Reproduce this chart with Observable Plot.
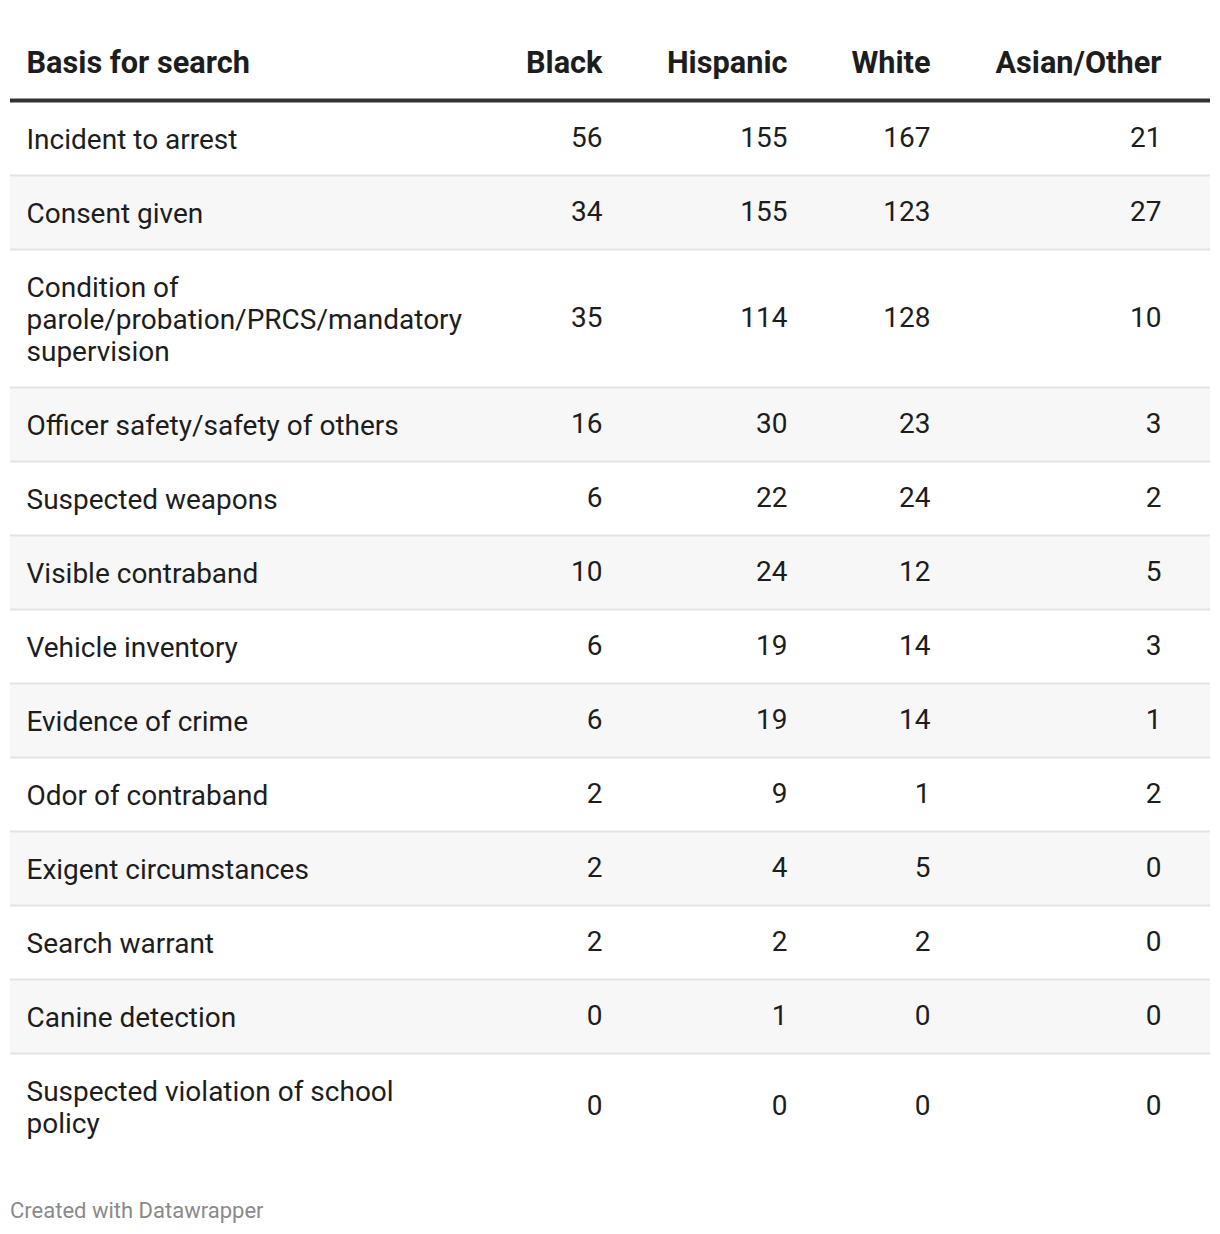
<!DOCTYPE html>
<html>
<head>
<meta charset="utf-8">
<script src="https://cdn.jsdelivr.net/npm/d3@7"></script>
<script src="https://cdn.jsdelivr.net/npm/@observablehq/plot@0.6"></script>
<style>
  html, body { margin: 0; padding: 0; background: #fff; }
  body { width: 1220px; font-family: Roboto, "Noto Sans", sans-serif; }
  #chart svg { display: block; }
  #footer { font-family: Roboto, sans-serif; font-size: 22px; color: #8a8a8a; margin: 10px 0 0 10px; line-height: 26px; }
</style>
</head>
<body>
<div id="chart"></div>
<div id="footer">Created with Datawrapper</div>
<script>
// ---- data ----
const columns = ["Basis for search", "Black", "Hispanic", "White", "Asian/Other"];
const basis = [
  "Incident to arrest",
  "Consent given",
  "Condition of\nparole/probation/PRCS/mandatory\nsupervision",
  "Officer safety/safety of others",
  "Suspected weapons",
  "Visible contraband",
  "Vehicle inventory",
  "Evidence of crime",
  "Odor of contraband",
  "Exigent circumstances",
  "Search warrant",
  "Canine detection",
  "Suspected violation of school\npolicy"
];
const black    = [56, 34, 35, 16, 6, 10, 6, 6, 2, 2, 2, 0, 0];
const hispanic = [155, 155, 114, 30, 22, 24, 19, 19, 9, 4, 2, 1, 0];
const white    = [167, 123, 128, 23, 24, 12, 14, 14, 1, 5, 2, 0, 0];
const asianOther = [21, 27, 10, 3, 2, 5, 3, 1, 2, 0, 0, 0, 0];

// ---- layout ----
const W = 1220, H = 1188;
const tableLeft = 10, tableRight = 1210;
const headerY = 63, headerRule = 100;
const lineH = 32, rowPad = 42;
const colX = {"Basis for search": 26, "Black": 602, "Hispanic": 787, "White": 930, "Asian/Other": 1161};
const fontSize = 28, headFontSize = 30.7;

const valueCols = [black, hispanic, white, asianOther];
let cursorY = headerRule + 1;
const rows = basis.map((label, i) => {
  const lines = label.split("\n").length;
  const h = rowPad + lineH * lines;
  const r = {i, label, y1: cursorY, y2: cursorY + h, ym: cursorY + h / 2};
  cursorY += h;
  return r;
});

const cells = [];
rows.forEach(r => {
  cells.push({col: columns[0], text: r.label, y: r.ym, anchor: "start"});
  valueCols.forEach((arr, j) => cells.push({col: columns[j + 1], text: String(arr[r.i]), y: r.ym, anchor: "end"}));
});
const header = columns.map((c, j) => ({col: c, text: c, y: headerY, anchor: j === 0 ? "start" : "end"}));

const chart = Plot.plot({
  width: W,
  height: H,
  margin: 0,
  x: {domain: [0, W], range: [0, W], axis: null},
  y: {domain: [0, H], range: [0, H], axis: null},
  style: {fontFamily: "Roboto, sans-serif", background: "#fff"},
  marks: [
    Plot.rect(rows.filter(r => r.i % 2 === 1), {x1: () => tableLeft, x2: () => tableRight, y1: "y1", y2: "y2", fill: "#f7f7f7"}),
    Plot.ruleY(rows.slice(0, -1), {y: "y2", x1: tableLeft, x2: tableRight, stroke: "#e3e3e3", strokeWidth: 2}),
    Plot.ruleY([headerRule], {x1: tableLeft, x2: tableRight, stroke: "#333", strokeWidth: 4}),
    Plot.text(header.filter(d => d.anchor === "start"), {x: d => colX[d.col], y: "y", text: "text", textAnchor: "start", fontSize: headFontSize, fontWeight: 700, fill: "#1d1d1d"}),
    Plot.text(header.filter(d => d.anchor === "end"), {x: d => colX[d.col], y: "y", text: "text", textAnchor: "end", fontSize: headFontSize, fontWeight: 700, fill: "#1d1d1d"}),
    Plot.text(cells.filter(d => d.anchor === "start"), {x: d => colX[d.col], y: "y", text: "text", textAnchor: "start", lineAnchor: "middle", lineHeight: lineH / fontSize, fontSize, fill: "#1d1d1d"}),
    Plot.text(cells.filter(d => d.anchor === "end"), {x: d => colX[d.col], y: "y", text: "text", textAnchor: "end", fontSize, fill: "#1d1d1d"})
  ]
});
document.getElementById("chart").appendChild(chart);
</script>
</body>
</html>
